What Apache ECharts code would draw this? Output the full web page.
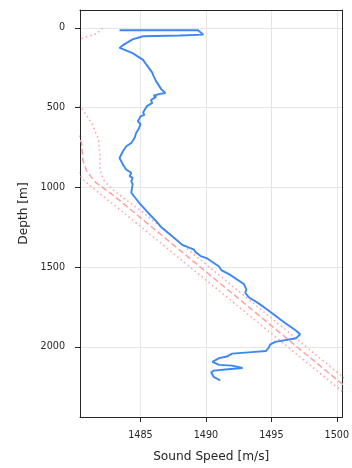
<!DOCTYPE html>
<html>
<head>
<meta charset="utf-8">
<script src="https://cdn.jsdelivr.net/npm/echarts@6/dist/echarts.min.js"></script>
<style>html,body{margin:0;padding:0;background:#fff}#c{width:352px;height:468px}</style>
</head>
<body>
<div id="c"></div>
<script>
// Measured profile (blue)
var measSpeed = [1483.4,1489.4,1489.8,1488.0,1485.2,1484.4,1483.7,1483.4,1483.8,1484.4,1485.2,1485.5,1485.9,1486.0,1486.2,1486.1,1486.4,1486.3,1486.6,1486.5,1486.9,1486.4,1486.0,1486.2,1485.8,1485.9,1485.5,1485.2,1485.3,1485.0,1484.8,1485.0,1484.9,1485.05,1484.67,1484.55,1484.3,1483.92,1483.8,1483.66,1483.4,1483.54,1483.66,1483.9,1484.3,1484.17,1484.4,1484.3,1484.4,1484.3,1484.9,1485.6,1486.2,1486.6,1487.4,1488.2,1489.1,1489.2,1489.1,1489.6,1490.1,1491.0,1491.2,1491.8,1492.9,1493.1,1493.0,1493.3,1494.0,1494.6,1496.0,1496.9,1497.2,1496.9,1495.3,1494.9,1494.8,1494.6,1493.5,1492.0,1491.6,1491.0,1490.5,1490.4,1491.0,1492.0,1491.9,1492.8,1491.7,1490.6,1490.4,1490.6,1491.1];
var measDepth = [14,14,42,47,52,72,106,125,137,158,200,235,280,300,335,345,360,370,385,395,408,415,425,432,452,470,490,530,545,555,586,600,627,637,658,690,721,742,752,773,815,825,856,887,908,929,940,960,981,1033,1096,1160,1211,1250,1304,1360,1390,1405,1415,1430,1445,1495,1520,1545,1605,1640,1660,1690,1725,1760,1846,1898,1920,1945,1968,1985,2005,2025,2032,2042,2060,2070,2093,2105,2112,2117,2125,2132,2140,2148,2160,2188,2210];
// Model profiles (pink)
var upperSpeed = [1482.1,1481.7,1480.6,1479.6,1478.9,1478.9,1479.7,1480.5,1481.3,1481.8,1481.9,1481.9,1482.2,1482.7,1483.6,1485.1,1500.33,1502.0];
var upperDepth = [0,33,64,100,200,350,450,502,600,700,800,890,955,1000,1060,1150,2179,2292];
var meanSpeed = [1479.2,1480.0,1480.5,1480.6,1480.9,1481.6,1483.0,1500.33,1502.0];
var meanDepth = [500,620,720,830,900,970,1054,2227,2340];
var lowerSpeed = [1479.4,1480.1,1480.6,1481.8,1483.1,1500.33,1502.0];
var lowerDepth = [750,880,950,1033,1117,2273,2386];
// Tick labels
var xTicks = [1485,1490,1495,1500];
var yTicks = [0,500,1000,1500,2000];

var X_MIN = 1480.38, X_MAX = 1500.43, Y_MIN = -112.5, Y_MAX = 2439;

function pairs(s, d){ return s.map(function(v,i){ return [v, d[i]]; }); }
function plain(v){ return String(Math.round(v)); }

var chart = echarts.init(document.getElementById('c'), null, {renderer:'canvas'});
var font = 'DejaVu Sans';
var pink = '#ffa0a0';
var ink = '#262626';
var frameAxis = {show: true, axisLine: {show: true, onZero: false, lineStyle: {color: ink, width: 1}},
  axisTick: {show: false}, axisLabel: {show: false}, splitLine: {show: false}};
chart.setOption({
  animation: false,
  backgroundColor: '#fff',
  grid: {left: 80, top: 10, right: 7, bottom: 50, show: false},
  xAxis: [{
    type: 'value', min: X_MIN, max: X_MAX, position: 'bottom',
    name: 'Sound Speed [m/s]', nameLocation: 'middle', nameGap: 34,
    nameTextStyle: {fontFamily: font, fontSize: 12.2, color: ink},
    axisLine: {show: true, onZero: false, lineStyle: {color: ink, width: 1}},
    axisTick: {show: true, length: 5, customValues: xTicks, lineStyle: {color: ink}},
    axisLabel: {customValues: xTicks, formatter: plain, margin: 13, fontFamily: font, fontSize: 9.6, color: ink},
    splitLine: {show: true, lineStyle: {color: '#e6e6e6', width: 1}}
  }, Object.assign({type: 'value', min: X_MIN, max: X_MAX, position: 'top'}, frameAxis)],
  yAxis: [{
    type: 'value', inverse: true, min: Y_MIN, max: Y_MAX, position: 'left',
    name: 'Depth [m]', nameLocation: 'middle', nameGap: 50, nameRotate: 90,
    nameTextStyle: {fontFamily: font, fontSize: 12.2, color: ink},
    axisLine: {show: true, onZero: false, lineStyle: {color: ink, width: 1}},
    axisTick: {show: true, length: 5, customValues: yTicks, lineStyle: {color: ink}},
    axisLabel: {customValues: yTicks, formatter: plain, margin: 15, fontFamily: font, fontSize: 9.6, color: ink},
    splitLine: {show: true, lineStyle: {color: '#e6e6e6', width: 1}}
  }, Object.assign({type: 'value', inverse: true, min: Y_MIN, max: Y_MAX, position: 'right'}, frameAxis)],
  series: [
    {type: 'line', data: pairs(upperSpeed, upperDepth), showSymbol: false, symbol: 'none', clip: true,
     lineStyle: {color: pink, width: 1.5, type: [1.5, 3]}},
    {type: 'line', data: pairs(meanSpeed, meanDepth), showSymbol: false, symbol: 'none', clip: true,
     lineStyle: {color: pink, width: 1.5, type: [6, 3]}},
    {type: 'line', data: pairs(lowerSpeed, lowerDepth), showSymbol: false, symbol: 'none', clip: true,
     lineStyle: {color: pink, width: 1.5, type: [1.5, 3]}},
    {type: 'line', data: pairs(measSpeed, measDepth), showSymbol: false, symbol: 'none', clip: true,
     lineStyle: {color: '#3d86f5', width: 1.9}}
  ]
});
</script>
</body>
</html>
